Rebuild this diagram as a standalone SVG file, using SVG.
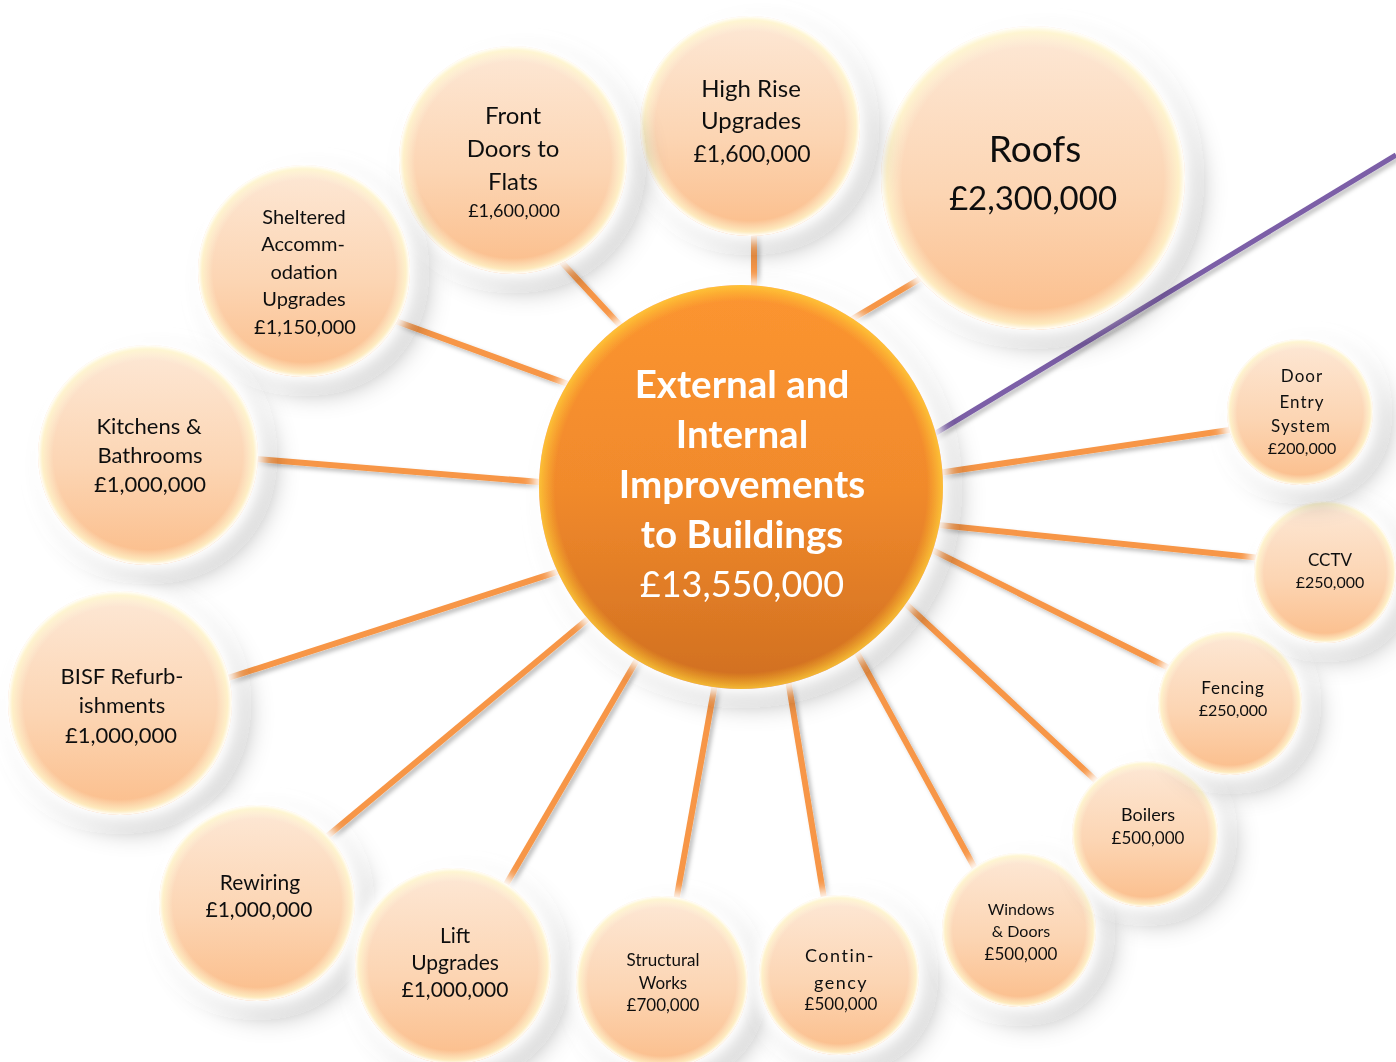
<svg xmlns="http://www.w3.org/2000/svg" width="1396" height="1062" viewBox="0 0 1396 1062">
<defs>
<linearGradient id="peach" x1="0" y1="0" x2="0" y2="1">
<stop offset="0" stop-color="#fde8d6"/>
<stop offset="0.55" stop-color="#fcd5b3"/>
<stop offset="1" stop-color="#fbbd8a"/>
</linearGradient>
<radialGradient id="rim" cx="0.5" cy="0.5" r="0.5">
<stop offset="0.86" stop-color="#fffbe0" stop-opacity="0"/>
<stop offset="0.96" stop-color="#fffbd0" stop-opacity="0.7"/>
<stop offset="1" stop-color="#ffffff" stop-opacity="1"/>
</radialGradient>
<linearGradient id="orange" x1="0" y1="0" x2="0" y2="1">
<stop offset="0" stop-color="#fc9530"/>
<stop offset="0.5" stop-color="#f18a2c"/>
<stop offset="1" stop-color="#d06f20"/>
</linearGradient>
<radialGradient id="orim" cx="0.5" cy="0.5" r="0.5">
<stop offset="0.92" stop-color="#ffc830" stop-opacity="0"/>
<stop offset="1" stop-color="#ffd23a" stop-opacity="0.75"/>
</radialGradient>
<filter id="sh" x="-30%" y="-30%" width="170%" height="170%">
<feGaussianBlur in="SourceAlpha" stdDeviation="14" result="b"/>
<feOffset in="b" dx="12" dy="12" result="o"/>
<feFlood flood-color="#000" flood-opacity="0.38"/>
<feComposite in2="o" operator="in" result="s"/>
<feMorphology in="SourceAlpha" operator="dilate" radius="5" result="d"/>
<feGaussianBlur in="d" stdDeviation="6" result="gb"/>
<feFlood flood-color="#fff" flood-opacity="1"/>
<feComposite in2="gb" operator="in" result="g"/>
<feMerge><feMergeNode in="s"/><feMergeNode in="g"/><feMergeNode in="SourceGraphic"/></feMerge>
</filter>
<filter id="lsh" x="-10%" y="-10%" width="120%" height="120%">
<feDropShadow dx="3" dy="3" stdDeviation="2" flood-color="#000" flood-opacity="0.25"/>
</filter>
</defs>
<style>
.b{fill:url(#peach)}
.r{fill:url(#rim)}
text{font-family:Lato,"Noto Sans","Liberation Sans",sans-serif;fill:#111;text-anchor:middle}
.c{stroke:#f79646;stroke-width:6;fill:none;stroke-linecap:butt}
.w{fill:#fff}
</style>
<rect width="1396" height="1062" fill="#fff"/>
<g id="connectors" filter="url(#lsh)">
<line class="c" x1="800" y1="350" x2="960" y2="255"/>
<line class="c" x1="754" y1="400" x2="754" y2="200"/>
<line class="c" x1="680" y1="390" x2="530" y2="228"/>
<line class="c" x1="650" y1="414" x2="360" y2="308"/>
<line class="c" x1="650" y1="491" x2="220" y2="456"/>
<line class="c" x1="650" y1="542" x2="200" y2="687"/>
<line class="c" x1="650" y1="567" x2="300" y2="859"/>
<line class="c" x1="680" y1="586" x2="490" y2="912"/>
<line class="c" x1="730" y1="600" x2="670" y2="935"/>
<line class="c" x1="770" y1="570" x2="830" y2="935"/>
<line class="c" x1="820" y1="585" x2="995" y2="905"/>
<line class="c" x1="850" y1="552" x2="1120" y2="803"/>
<line class="c" x1="850" y1="509" x2="1195" y2="681"/>
<line class="c" x1="850" y1="516" x2="1290" y2="561"/>
<line class="c" x1="850" y1="486" x2="1270" y2="424"/>
<line x1="850" y1="485" x2="1396" y2="155" stroke="#7b5ea7" stroke-width="5"/>
</g>
<g id="roofs" filter="url(#sh)"><circle class="b" cx="1033" cy="178" r="152"/><circle class="r" cx="1033" cy="178" r="152"/>
<text x="1035" y="162" font-size="37">Roofs</text><text x="1033" y="210" font-size="33">£2,300,000</text></g>
<g id="highrise" filter="url(#sh)"><circle class="b" cx="750" cy="126" r="110"/><circle class="r" cx="750" cy="126" r="110"/>
<text x="751" y="97" font-size="24">High Rise</text><text x="751" y="129" font-size="24">Upgrades</text><text x="752" y="162" font-size="23">£1,600,000</text></g>
<g id="frontdoors" filter="url(#sh)"><circle class="b" cx="513" cy="160" r="114"/><circle class="r" cx="513" cy="160" r="114"/>
<text x="513" y="124" font-size="24">Front</text><text x="513" y="157" font-size="24">Doors to</text><text x="513" y="190" font-size="24">Flats</text><text x="514" y="217" font-size="18">£1,600,000</text></g>
<g id="sheltered" filter="url(#sh)"><circle class="b" cx="304" cy="271" r="106"/><circle class="r" cx="304" cy="271" r="106"/>
<text x="304" y="224" font-size="20">Sheltered</text><text x="303" y="251" font-size="20">Accomm-</text><text x="304" y="279" font-size="20">odation</text><text x="304" y="306" font-size="20">Upgrades</text><text x="305" y="334" font-size="20">£1,150,000</text></g>
<g id="kitchens" filter="url(#sh)"><circle class="b" cx="148" cy="455" r="110"/><circle class="r" cx="148" cy="455" r="110"/>
<text x="149" y="434" font-size="22">Kitchens &amp;</text><text x="150" y="463" font-size="22">Bathrooms</text><text x="150" y="492" font-size="22">£1,000,000</text></g>
<g id="bisf" filter="url(#sh)"><circle class="b" cx="120" cy="703" r="112"/><circle class="r" cx="120" cy="703" r="112"/>
<text x="122" y="684" font-size="22">BISF Refurb-</text><text x="122" y="713" font-size="22">ishments</text><text x="121" y="743" font-size="22">£1,000,000</text></g>
<g id="rewiring" filter="url(#sh)"><circle class="b" cx="257" cy="903" r="98"/><circle class="r" cx="257" cy="903" r="98"/>
<text x="260" y="890" font-size="21">Rewiring</text><text x="259" y="917" font-size="21">£1,000,000</text></g>
<g id="lift" filter="url(#sh)"><circle class="b" cx="453" cy="966" r="98"/><circle class="r" cx="453" cy="966" r="98"/>
<text x="455" y="943" font-size="21">Lift</text><text x="455" y="970" font-size="21">Upgrades</text><text x="455" y="997" font-size="21">£1,000,000</text></g>
<g id="structural" filter="url(#sh)"><circle class="b" cx="662" cy="982" r="86"/><circle class="r" cx="662" cy="982" r="86"/>
<text x="663" y="966" font-size="17">Structural</text><text x="663" y="989" font-size="17">Works</text><text x="663" y="1011" font-size="17">£700,000</text></g>
<g id="contingency" filter="url(#sh)"><circle class="b" cx="839" cy="975" r="80"/><circle class="r" cx="839" cy="975" r="80"/>
<text x="840" y="962" font-size="18" letter-spacing="1.5">Contin-</text><text x="841" y="989" font-size="18" letter-spacing="1.5">gency</text><text x="841" y="1010" font-size="17">£500,000</text></g>
<g id="windows" filter="url(#sh)"><circle class="b" cx="1019" cy="930" r="77"/><circle class="r" cx="1019" cy="930" r="77"/>
<text x="1021" y="915" font-size="16">Windows</text><text x="1021" y="937" font-size="16">&amp; Doors</text><text x="1021" y="960" font-size="17">£500,000</text></g>
<g id="boilers" filter="url(#sh)"><circle class="b" cx="1145" cy="834" r="73"/><circle class="r" cx="1145" cy="834" r="73"/>
<text x="1148" y="821" font-size="18">Boilers</text><text x="1148" y="844" font-size="17">£500,000</text></g>
<g id="fencing" filter="url(#sh)"><circle class="b" cx="1230" cy="703" r="72"/><circle class="r" cx="1230" cy="703" r="72"/>
<text x="1233" y="694" font-size="17" letter-spacing="0.8">Fencing</text><text x="1233" y="716" font-size="16">£250,000</text></g>
<g id="cctv" filter="url(#sh)"><circle class="b" cx="1325" cy="572" r="71"/><circle class="r" cx="1325" cy="572" r="71"/>
<text x="1330" y="566" font-size="17">CCTV</text><text x="1330" y="588" font-size="16">£250,000</text></g>
<g id="doorentry" filter="url(#sh)"><circle class="b" cx="1300" cy="412" r="73"/><circle class="r" cx="1300" cy="412" r="73"/>
<text x="1302" y="382" font-size="17" letter-spacing="1">Door</text><text x="1302" y="408" font-size="17" letter-spacing="1">Entry</text><text x="1301" y="432" font-size="17" letter-spacing="1">System</text><text x="1302" y="454" font-size="16">£200,000</text></g>
<g id="center" filter="url(#sh)"><circle cx="741" cy="487" r="202" fill="url(#orange)"/><circle cx="741" cy="487" r="202" fill="url(#orim)"/>
<text class="w" x="742" y="398" font-size="38.5" font-weight="bold">External and</text>
<text class="w" x="742" y="448" font-size="38.5" font-weight="bold">Internal</text>
<text class="w" x="742" y="498" font-size="38.5" font-weight="bold">Improvements</text>
<text class="w" x="742" y="548" font-size="38.5" font-weight="bold">to Buildings</text>
<text class="w" x="742" y="597" font-size="36">£13,550,000</text></g>
</svg>
